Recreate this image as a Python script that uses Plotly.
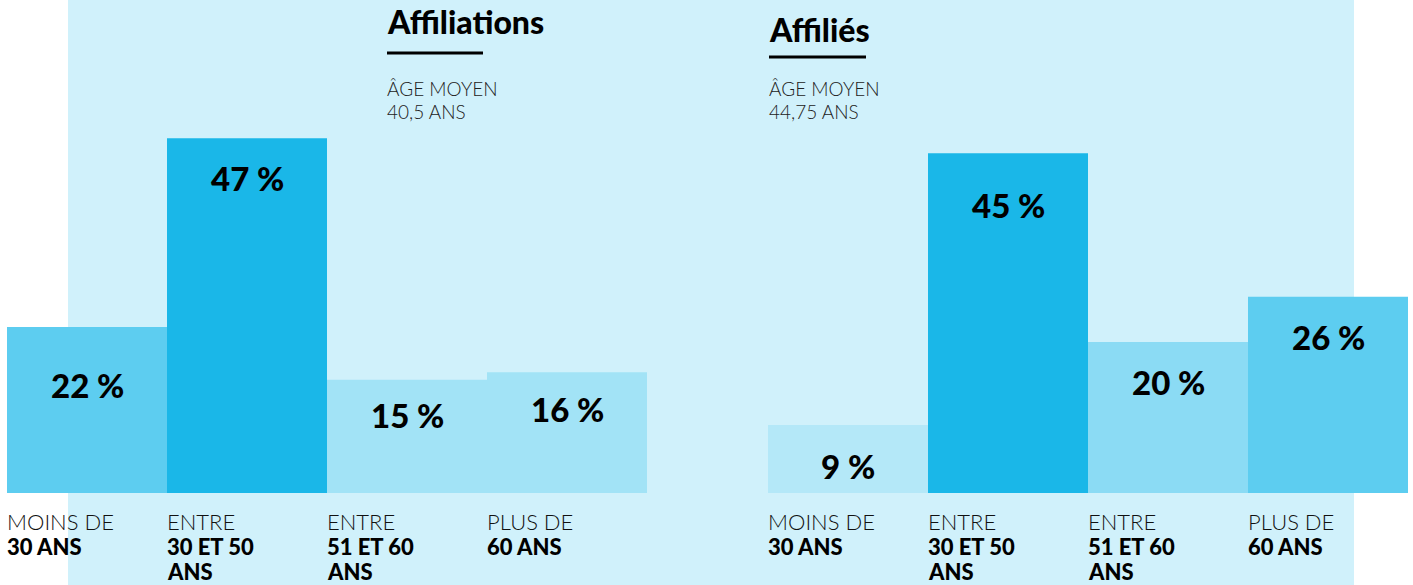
import plotly.graph_objects as go

# ---- data ----
categories_light = ["MOINS DE", "ENTRE", "ENTRE", "PLUS DE"]
categories_bold = [["30 ANS"], ["30 ET 50", "ANS"], ["51 ET 60", "ANS"], ["60 ANS"]]
affiliations_values = [22, 47, 15, 16]
affilies_values = [9, 45, 20, 26]
group_titles = ["Affiliations", "Affiliés"]
group_subtitles = [["ÂGE MOYEN", "40,5 ANS"], ["ÂGE MOYEN", "44,75 ANS"]]

# ---- styles / layout ----
W, H = 1413, 585
BAR_W_PX = 160
LEFT_PX = 7
RIGHT_PX = 1408
BOTTOM_PX = 493
PX_PER_UNIT = 7.55
colors_left = ["#5DCDF0", "#1AB7E8", "#A2E3F6", "#A2E3F6"]
colors_right = ["#B4E8F8", "#1AB7E8", "#8BDBF4", "#5DCDF0"]
label_offsets_left = [58, 40, 35, 37]
label_offsets_right = [41, 52, 40, 40]
BG = "#D0F1FB"
FONT = "Lato"


def px2x(px):
    return (px - LEFT_PX) / BAR_W_PX - 0.5


def py2paper(py):
    return (BOTTOM_PX - py) / BOTTOM_PX


x_left = [px2x(LEFT_PX + BAR_W_PX / 2) + i for i in range(4)]
x_right = [px2x(768 + BAR_W_PX / 2) + i for i in range(4)]

fig = go.Figure()
fig.add_trace(go.Bar(x=x_left, y=affiliations_values, width=1,
                     marker=dict(color=colors_left, line=dict(width=0)),
                     hoverinfo="skip"))
fig.add_trace(go.Bar(x=x_right, y=affilies_values, width=1,
                     marker=dict(color=colors_right, line=dict(width=0)),
                     hoverinfo="skip"))

annotations = []
# value labels
for xs, vals, offs in [(x_left, affiliations_values, label_offsets_left),
                       (x_right, affilies_values, label_offsets_right)]:
    for x, v, o in zip(xs, vals, offs):
        annotations.append(dict(x=x, y=v, xref="x", yref="y", text=f"{v} %",
                                showarrow=False, yshift=-o, xanchor="center", yanchor="middle",
                                font=dict(family=FONT, size=33, color="#000", weight=900)))
# category labels (one annotation per line for tight line spacing)
for xs in [x_left, x_right]:
    for x, light, bold in zip(xs, categories_light, categories_bold):
        lines = [(light, False)] + [(b, True) for b in bold]
        for i, (t, is_bold) in enumerate(lines):
            annotations.append(dict(
                x=x - 0.5, y=0, xref="x", yref="y", text=t,
                showarrow=False, xanchor="left", yanchor="middle", align="left",
                xshift=-2, yshift=-(28 + 25 * i),
                font=dict(family=FONT, size=22, color="#000" if is_bold else "#111",
                          weight=900 if is_bold else 300)))
# titles
title_pos = [(387, 22), (769, 29)]
underline = [(387, 483, 53), (769, 866, 57)]
for (tx, ty), t, sub in zip(title_pos, group_titles, group_subtitles):
    annotations.append(dict(x=px2x(tx), y=py2paper(ty), xref="x", yref="paper",
                            text=t, showarrow=False, xanchor="left",
                            yanchor="middle", xshift=-2,
                            font=dict(family=FONT, size=32, color="#000", weight=900)))
    for i, s in enumerate(sub):
        annotations.append(dict(x=px2x(tx), y=py2paper(88 + 23 * i), xref="x", yref="paper",
                                text=s, showarrow=False, xanchor="left",
                                yanchor="middle", align="left", xshift=-2,
                                font=dict(family=FONT, size=19, color="#222", weight=300)))

shapes = [dict(type="rect", xref="x", yref="paper", x0=px2x(68), x1=px2x(1354),
               y0=py2paper(H), y1=py2paper(0), fillcolor=BG, line=dict(width=0),
               layer="below")]
for x0, x1, y in underline:
    shapes.append(dict(type="line", xref="x", yref="paper", x0=px2x(x0), x1=px2x(x1),
                       y0=py2paper(y), y1=py2paper(y), line=dict(color="#000", width=3)))

fig.update_layout(
    width=W, height=H,
    margin=dict(l=LEFT_PX, r=W - RIGHT_PX, t=0, b=H - BOTTOM_PX, pad=0),
    paper_bgcolor="white", plot_bgcolor="rgba(0,0,0,0)",
    showlegend=False, barmode="overlay",
    xaxis=dict(range=[px2x(LEFT_PX), px2x(RIGHT_PX)], visible=False, fixedrange=True),
    yaxis=dict(range=[0, BOTTOM_PX / PX_PER_UNIT], visible=False, fixedrange=True),
    annotations=annotations, shapes=shapes,
)

fig.write_html("out.html", config={"displayModeBar": False},
               post_script="document.body.style.margin='0';document.body.style.overflow='hidden';")
